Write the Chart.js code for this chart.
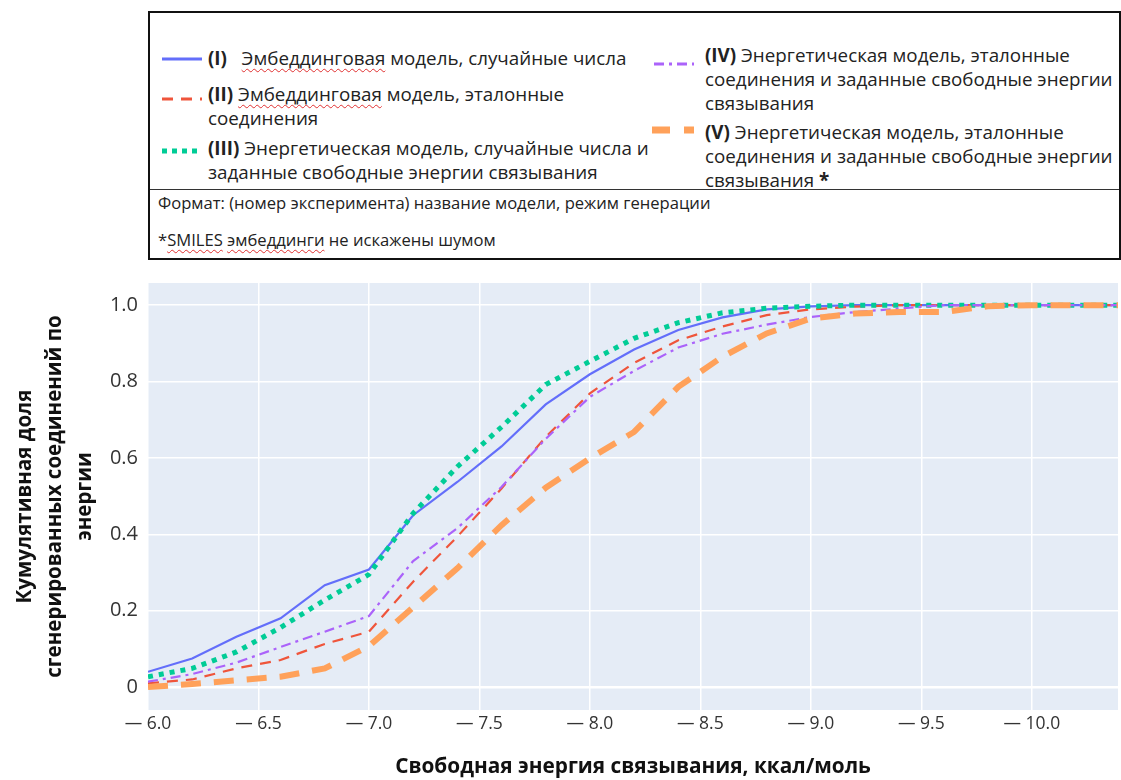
<!DOCTYPE html>
<html>
<head>
<meta charset="utf-8">
<script src="https://cdn.jsdelivr.net/npm/chart.js@4.4.1/dist/chart.umd.min.js"></script>
<style>
  html, body { margin:0; padding:0; background:#fff; }
  #wrap { position:relative; width:1121px; height:780px; overflow:hidden; }
  #c { position:absolute; left:0; top:0; }
  #legend { position:absolute; left:148px; top:11px; width:969px; height:245px; border:2px solid #111; background:#fff;
            font-family:"Open Sans", "Noto Sans", sans-serif; color:#222; }
  #legend .t { position:absolute; white-space:nowrap; font-size:18.8px; line-height:24px; }
  #legend .f { position:absolute; white-space:nowrap; font-size:16.6px; line-height:20px; }
  #legend b { font-weight:700; }
  #legend .sp { text-decoration: underline wavy #e03030; text-decoration-thickness:1px; text-underline-offset:3px; }
  #legend svg { position:absolute; }
  #divider { position:absolute; left:0; right:0; top:176px; height:0; border-top:1.5px solid #333; }
</style>
</head>
<body>
<div id="wrap">
  <canvas id="c" width="1121" height="780"></canvas>
  <div id="legend">
    <svg style="left:10px;top:40px" width="44" height="12"><line x1="2" y1="6" x2="42" y2="6" stroke="#636efa" stroke-width="3"/></svg>
    <div class="t" style="left:58px;top:33px"><b>(I)</b>&nbsp;&nbsp; <span class="sp">Эмбеддинговая</span> модель, случайные числа</div>

    <svg style="left:10px;top:80px" width="44" height="12"><line x1="2" y1="6" x2="42" y2="6" stroke="#EF553B" stroke-width="3" stroke-dasharray="11,8"/></svg>
    <div class="t" style="left:58px;top:69px"><b>(II)</b> <span class="sp">Эмбеддинговая</span> модель, эталонные</div>
    <div class="t" style="left:58px;top:93px">соединения</div>

    <svg style="left:10px;top:132px" width="44" height="12"><line x1="2" y1="6" x2="42" y2="6" stroke="#00cc96" stroke-width="5" stroke-dasharray="5,5"/></svg>
    <div class="t" style="left:58px;top:123px"><b>(III)</b> Энергетическая модель, случайные числа и</div>
    <div class="t" style="left:58px;top:147px">заданные свободные энергии связывания</div>

    <svg style="left:502px;top:45px" width="44" height="12"><line x1="2" y1="6" x2="42" y2="6" stroke="#ab63fa" stroke-width="3" stroke-dasharray="10,5,3,5"/></svg>
    <div class="t" style="left:555px;top:30px"><b>(IV)</b> Энергетическая модель, эталонные</div>
    <div class="t" style="left:555px;top:54px">соединения и заданные свободные энергии</div>
    <div class="t" style="left:555px;top:78px">связывания</div>

    <svg style="left:500px;top:110px" width="46" height="14"><line x1="2" y1="7" x2="44" y2="7" stroke="#FFA15A" stroke-width="7" stroke-dasharray="18,14"/></svg>
    <div class="t" style="left:555px;top:107px"><b>(V)</b> Энергетическая модель, эталонные</div>
    <div class="t" style="left:555px;top:131px">соединения и заданные свободные энергии</div>
    <div class="t" style="left:555px;top:155px">связывания <b>*</b></div>

    <div id="divider"></div>
    <div class="f" style="left:8px;top:180px">Формат: (номер эксперимента) название модели, режим генерации</div>
    <div class="f" style="left:8px;top:217px">*<span class="sp">SMILES</span> <span class="sp">эмбеддинги</span> не искажены шумом</div>
  </div>
</div>
<script>
// ---- data ----
const energies = [-6.0,-6.2,-6.4,-6.6,-6.8,-7.0,-7.2,-7.4,-7.6,-7.8,-8.0,-8.2,-8.4,-8.6,-8.8,-9.0,-9.2,-9.4,-9.6,-9.8,-10.0,-10.2,-10.4];
const seriesI   = [0.040,0.075,0.132,0.180,0.267,0.308,0.450,0.537,0.630,0.740,0.819,0.884,0.935,0.968,0.989,0.997,1,1,1,1,1,1,1];
const seriesII  = [0.010,0.020,0.049,0.071,0.113,0.145,0.276,0.394,0.520,0.655,0.769,0.849,0.908,0.944,0.974,0.989,0.996,1,1,1,1,1,1];
const seriesIII = [0.027,0.049,0.092,0.156,0.228,0.295,0.455,0.577,0.681,0.792,0.853,0.913,0.954,0.980,0.992,0.997,1,1,1,1,1,1,1];
const seriesIV  = [0.014,0.034,0.064,0.105,0.145,0.186,0.330,0.416,0.524,0.650,0.760,0.828,0.889,0.925,0.949,0.969,0.982,0.991,1,1,1,1,1];
const seriesV   = [0.000,0.008,0.018,0.027,0.049,0.107,0.209,0.311,0.424,0.522,0.599,0.668,0.786,0.865,0.926,0.965,0.978,0.982,0.982,0.997,1,1,1];
const seriesNames = ['(I)','(II)','(III)','(IV)','(V)'];
const xTicks = [-6.0,-6.5,-7.0,-7.5,-8.0,-8.5,-9.0,-9.5,-10.0];
const yTicks = [0,0.2,0.4,0.6,0.8,1.0];
const xTitle = 'Свободная энергия связывания, ккал/моль';
const yTitle = ['Кумулятивная доля','сгенерированных соединений по','энергии'];

function pts(ys){ return energies.map((x,i)=>({x:x,y:ys[i]})); }

const bgPlugin = {
  id:'plotBg',
  beforeDraw(chart){
    const a = chart.chartArea, ctx = chart.ctx;
    ctx.save(); ctx.fillStyle = '#E5ECF6';
    ctx.fillRect(a.left, a.top, a.right-a.left, a.bottom-a.top);
    ctx.restore();
  }
};

const FONT = '"Open Sans", "Noto Sans", sans-serif';

new Chart(document.getElementById('c'), {
  type:'line',
  data:{
    datasets:[
      {label:seriesNames[0], data:pts(seriesI),   borderColor:'#636efa', borderWidth:2.2, order:5},
      {label:seriesNames[1], data:pts(seriesII),  borderColor:'#EF553B', borderWidth:2.2, borderDash:[11,8], order:4},
      {label:seriesNames[2], data:pts(seriesIII), borderColor:'#00cc96', borderWidth:5, borderDash:[5,6], order:3},
      {label:seriesNames[3], data:pts(seriesIV),  borderColor:'#ab63fa', borderWidth:2.2, borderDash:[10,5,3,5], order:2},
      {label:seriesNames[4], data:pts(seriesV),   borderColor:'#FFA15A', borderWidth:6, borderDash:[20,13], order:1}
    ]
  },
  options:{
    responsive:false,
    animation:false,
    events:[],
    elements:{ point:{radius:0}, line:{tension:0, fill:false, borderCapStyle:'butt'} },
    layout:{ padding:{ top:283, right:3, bottom:0, left:0 } },
    plugins:{ legend:{display:false}, tooltip:{enabled:false} },
    scales:{
      x:{
        type:'linear', reverse:true, min:-10.39, max:-6.0,
        afterBuildTicks(s){ s.ticks = xTicks.map(v=>({value:v})); },
        afterFit(s){ s.height = 70; },
        border:{display:false},
        grid:{ color:'#ffffff', lineWidth:1.5, drawTicks:false },
        ticks:{ padding:4, color:'#333', font:{family:FONT, size:17.5},
                maxRotation:0, autoSkip:false,
                callback:(v)=>'\u2014 ' + Math.abs(v).toFixed(1) },
        title:{ display:true, text:xTitle, color:'#111',
                font:{family:FONT, size:20.8, weight:'bold', lineHeight:1.15}, padding:{top:0,bottom:1} }
      },
      y:{
        type:'linear', min:-0.06, max:1.058,
        afterBuildTicks(s){ s.ticks = yTicks.map(v=>({value:v})); },
        afterFit(s){ s.width = 148; },
        border:{display:false},
        grid:{ color:'#ffffff', lineWidth:(c)=> (c.tick && c.tick.value===0) ? 2.6 : 1.5, drawTicks:false },
        ticks:{ padding:10, color:'#333', font:{family:FONT, size:20},
                callback:(v)=> v===0 ? '0' : v.toFixed(1) },
        title:{ display:true, text:yTitle, color:'#111',
                font:{family:FONT, size:20.5, weight:'bold', lineHeight:1.46}, padding:{top:10,bottom:0} }
      }
    }
  },
  plugins:[bgPlugin]
});
</script>
</body>
</html>
